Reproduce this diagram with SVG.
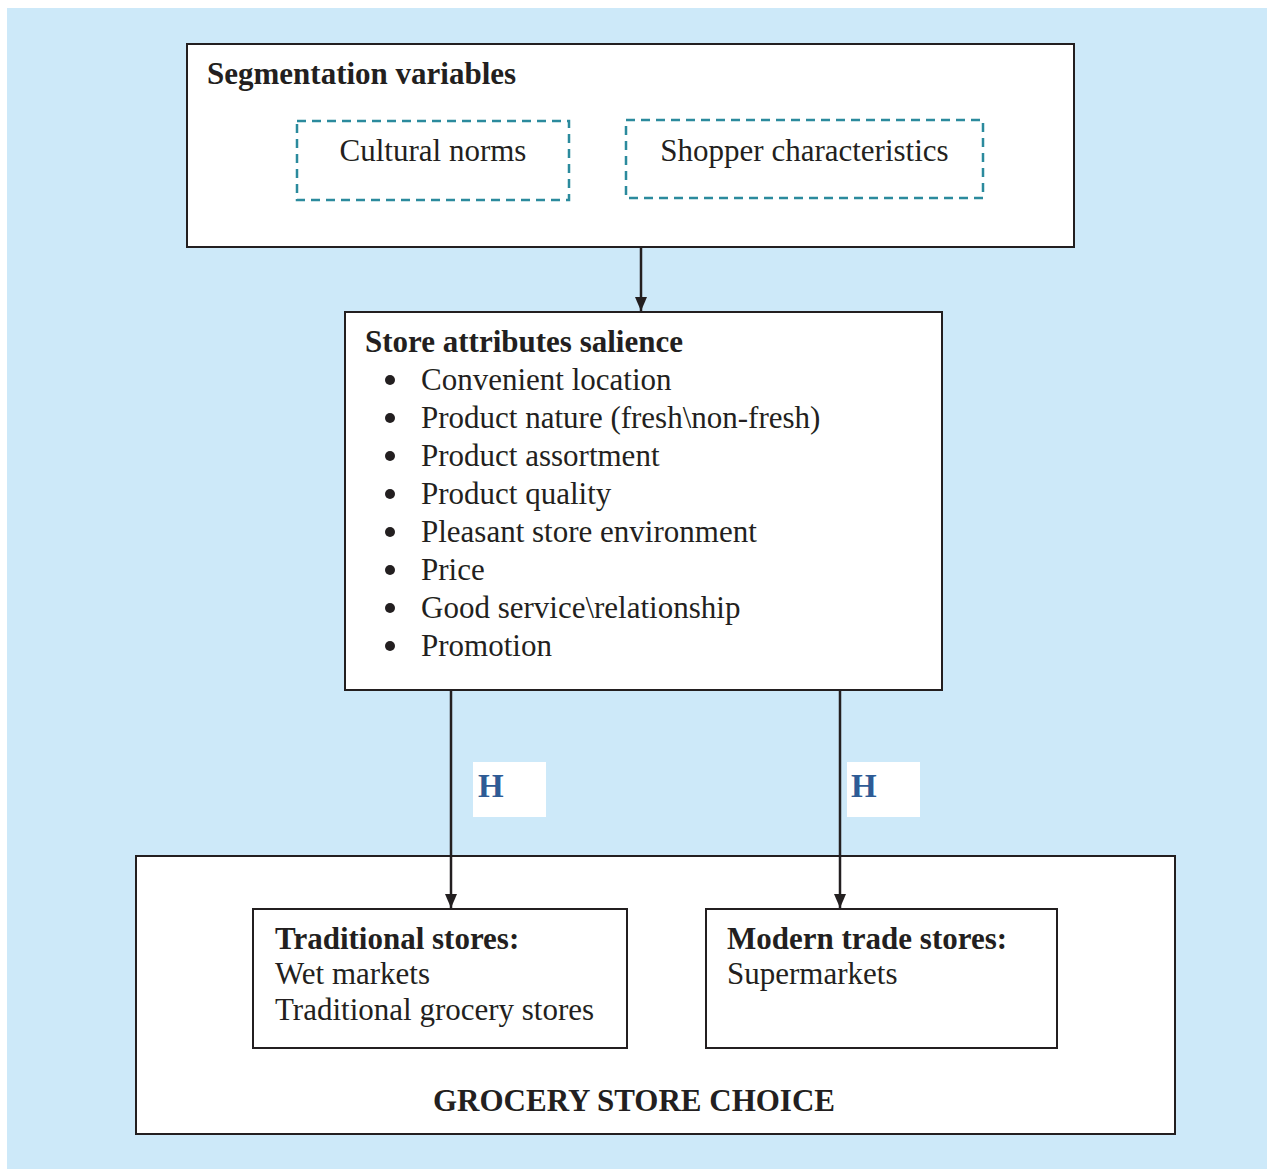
<svg xmlns="http://www.w3.org/2000/svg" width="1274" height="1169" viewBox="0 0 1274 1169">
<defs>
<style>
.box{fill:#fff;stroke:#231f20;stroke-width:2}
.dash{fill:none;stroke:#2b8a9d;stroke-width:2.5;stroke-dasharray:9 6}
.t{font-family:"Liberation Serif","Times New Roman",serif;font-size:31px;fill:#231f20}
.b{font-weight:bold}
.h{font-family:"Liberation Serif","Times New Roman",serif;font-size:33px;font-weight:bold;fill:#2e5b95}
.line{stroke:#231f20;stroke-width:2.5;fill:none}
.dot{fill:#231f20}
</style>
<marker id="arr" viewBox="0 0 14 12" refX="14" refY="6" markerWidth="14" markerHeight="12" markerUnits="userSpaceOnUse" orient="auto">
<path d="M0,0 L14,6 L0,12 Z" fill="#231f20"/>
</marker>
</defs>
<rect x="7" y="8" width="1260" height="1161" fill="#cde9f9"/>
<g id="segmentation">
<rect class="box" x="187" y="44" width="887" height="203"/>
<text class="t b" x="207" y="84" font-size="30">Segmentation variables</text>
</g>
<g id="cultural-norms">
<rect class="dash" x="297" y="121" width="272" height="79"/>
<text class="t" x="433" y="161" text-anchor="middle">Cultural norms</text>
</g>
<g id="shopper-characteristics">
<rect class="dash" x="626" y="120" width="357" height="78"/>
<text class="t" x="804.5" y="161" text-anchor="middle">Shopper characteristics</text>
</g>
<g id="store-attributes">
<rect class="box" x="345" y="312" width="597" height="378"/>
<text class="t b" x="365" y="352">Store attributes salience</text>
<g class="dot">
<circle cx="390" cy="380" r="5"/>
<circle cx="390" cy="418" r="5"/>
<circle cx="390" cy="456" r="5"/>
<circle cx="390" cy="494" r="5"/>
<circle cx="390" cy="532" r="5"/>
<circle cx="390" cy="570" r="5"/>
<circle cx="390" cy="608" r="5"/>
<circle cx="390" cy="646" r="5"/>
</g>
<g class="t">
<text x="421" y="390">Convenient location</text>
<text x="421" y="428">Product nature (fresh\non-fresh)</text>
<text x="421" y="466">Product assortment</text>
<text x="421" y="504">Product quality</text>
<text x="421" y="542">Pleasant store environment</text>
<text x="421" y="580">Price</text>
<text x="421" y="618">Good service\relationship</text>
<text x="421" y="656">Promotion</text>
</g>
</g>
<g id="grocery-store-choice">
<rect class="box" x="136" y="856" width="1039" height="278"/>
<text class="t b" x="634" y="1111" text-anchor="middle">GROCERY STORE CHOICE</text>
</g>
<g id="connectors">
<line class="line" x1="641" y1="247" x2="641" y2="311" marker-end="url(#arr)"/>
<line class="line" x1="451" y1="690" x2="451" y2="908" marker-end="url(#arr)"/>
<line class="line" x1="840" y1="690" x2="840" y2="908" marker-end="url(#arr)"/>
</g>
<g id="h-label-1">
<rect x="473" y="762" width="73" height="55" fill="#fff"/>
<text class="h" x="478" y="797">H</text>
</g>
<g id="h-label-2">
<rect x="847" y="762" width="73" height="55" fill="#fff"/>
<text class="h" x="851" y="797">H</text>
</g>
<g id="traditional-stores">
<rect class="box" x="253" y="909" width="374" height="139"/>
<text class="t b" x="275" y="949">Traditional stores:</text>
<text class="t" x="275" y="984">Wet markets</text>
<text class="t" x="275" y="1020">Traditional grocery stores</text>
</g>
<g id="modern-trade-stores">
<rect class="box" x="706" y="909" width="351" height="139"/>
<text class="t b" x="727" y="949">Modern trade stores:</text>
<text class="t" x="727" y="984">Supermarkets</text>
</g>
</svg>
